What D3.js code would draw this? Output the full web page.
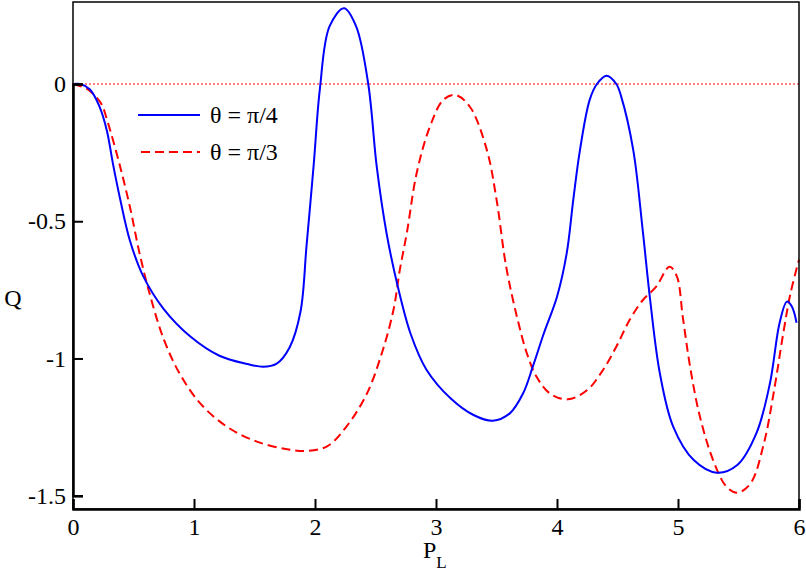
<!DOCTYPE html>
<html><head><meta charset="utf-8">
<script src="https://cdn.jsdelivr.net/npm/d3@7"></script>
<style>body{margin:0;background:#fff}svg{display:block}</style>
</head><body>
<svg id="chart" width="806" height="571"></svg>
<script>
const xTicks = [0,1,2,3,4,5,6];
const yTicks = [0,-0.5,-1,-1.5];
const seriesNames = ["θ = π/4","θ = π/3"];
const blueX = [0,0.06,0.14,0.22,0.28,0.33,0.39,0.47,0.58,0.75,0.97,1.21,1.44,1.57,1.68,1.79,1.88,1.93,1.99,2.04,2.12,2.24,2.34,2.44,2.51,2.59,2.68,2.79,2.92,3.12,3.31,3.47,3.61,3.72,3.80,3.89,4.00,4.08,4.135,4.19,4.27,4.33,4.41,4.49,4.53,4.63,4.71,4.77,4.85,4.96,5.13,5.32,5.49,5.65,5.76,5.84,5.90,5.94,5.98];
const blueY = [0,0,-0.02,-0.083,-0.17,-0.29,-0.42,-0.57,-0.70,-0.82,-0.92,-0.99,-1.02,-1.03,-1.02,-0.96,-0.83,-0.59,-0.29,-0.02,0.21,0.276,0.21,0,-0.30,-0.54,-0.73,-0.91,-1.04,-1.145,-1.206,-1.227,-1.20,-1.127,-1.03,-0.91,-0.775,-0.617,-0.42,-0.24,-0.058,0.0,0.03,0.0,-0.045,-0.24,-0.54,-0.787,-1.054,-1.248,-1.37,-1.416,-1.388,-1.27,-1.09,-0.87,-0.793,-0.81,-0.87];
const redX = [0,0.11,0.18,0.237,0.29,0.383,0.47,0.55,0.64,0.75,0.88,1.05,1.27,1.52,1.77,1.93,2.10,2.26,2.43,2.56,2.65,2.70,2.76,2.84,2.95,3.06,3.16,3.28,3.42,3.50,3.58,3.67,3.75,3.83,3.94,4.09,4.25,4.38,4.49,4.60,4.71,4.82,4.93,4.99,5.04,5.10,5.18,5.29,5.40,5.49,5.60,5.71,5.79,5.87,5.93,6.0];
const redY = [0,-0.016,-0.042,-0.075,-0.143,-0.29,-0.447,-0.617,-0.775,-0.93,-1.054,-1.163,-1.248,-1.303,-1.331,-1.337,-1.32,-1.248,-1.127,-0.97,-0.82,-0.68,-0.54,-0.325,-0.155,-0.058,-0.04,-0.083,-0.24,-0.42,-0.666,-0.85,-0.98,-1.066,-1.127,-1.149,-1.115,-1.042,-0.957,-0.86,-0.787,-0.738,-0.666,-0.70,-0.85,-1.03,-1.21,-1.37,-1.467,-1.489,-1.455,-1.309,-1.127,-0.908,-0.762,-0.64];

const FONT = "Liberation Serif";
const svg = d3.select("#chart");
const L = 73, R = 799, T = 2, B = 509;
const x = d3.scaleLinear().domain([0,6]).range([L,R]);
const y = d3.scaleLinear().domain([-1.5,0]).range([495.7,84]);

// zero reference dotted line
svg.append("line").attr("x1",x(0)).attr("x2",x(6)).attr("y1",y(0)).attr("y2",y(0))
  .attr("stroke","#ff0000").attr("stroke-width",1).attr("stroke-dasharray","2,2");

const line = d3.line().x(d=>x(d[0])).y(d=>y(d[1])).curve(d3.curveCatmullRom.alpha(0.5));
const blue = blueX.map((v,i)=>[v,blueY[i]]);
const red = redX.map((v,i)=>[v,redY[i]]);

svg.append("path").attr("d",line(red)).attr("fill","none").attr("stroke","#ff0000")
  .attr("stroke-width",2).attr("stroke-dasharray","9,5");
svg.append("path").attr("d",line(blue)).attr("fill","none").attr("stroke","#0000ff")
  .attr("stroke-width",2);

// frame
svg.append("rect").attr("x",L).attr("y",T).attr("width",R-L).attr("height",B-T)
  .attr("fill","none").attr("stroke","#000").attr("stroke-width",1.5);

const fmt = d => d===0 ? "0" : String(d).replace("\u2212","-");
const ax = svg.append("g").attr("transform",`translate(0,${B})`)
  .call(d3.axisBottom(x).tickValues(xTicks).tickSize(-10).tickPadding(9).tickFormat(fmt));
const ay = svg.append("g").attr("transform",`translate(${L},0)`)
  .call(d3.axisLeft(y).tickValues(yTicks).tickSize(-10).tickPadding(7).tickFormat(fmt));
[ax,ay].forEach(g=>{
  g.attr("font-family",FONT).attr("font-size",24);
  g.select(".domain").attr("stroke","#000").attr("stroke-width",2.5);
  g.selectAll(".tick line").attr("stroke","#000").attr("stroke-width",2);
  g.selectAll("text").attr("font-family",FONT).attr("font-size",24).attr("fill","#000");
});

// axis titles
svg.append("text").attr("x",13).attr("y",298).attr("dy","0.35em").attr("text-anchor","middle")
  .attr("font-family",FONT).attr("font-size",24).text("Q");
const xt = svg.append("text").attr("x",423).attr("y",558).attr("font-family",FONT).attr("font-size",24);
xt.append("tspan").text("P");
xt.append("tspan").attr("font-size",17).attr("dy",10).text("L");

// legend
const lg = svg.append("g");
lg.append("line").attr("x1",138).attr("x2",200).attr("y1",115).attr("y2",115)
  .attr("stroke","#0000ff").attr("stroke-width",2);
lg.append("line").attr("x1",141).attr("x2",200).attr("y1",152).attr("y2",152)
  .attr("stroke","#ff0000").attr("stroke-width",2).attr("stroke-dasharray","9,5");
lg.selectAll("text.lt").data(seriesNames).join("text").attr("class","lt")
  .attr("x",210).attr("y",(d,i)=>115+i*37).attr("dy","0.35em")
  .attr("font-family",FONT).attr("font-size",24).text(d=>d);
</script>
</body></html>
